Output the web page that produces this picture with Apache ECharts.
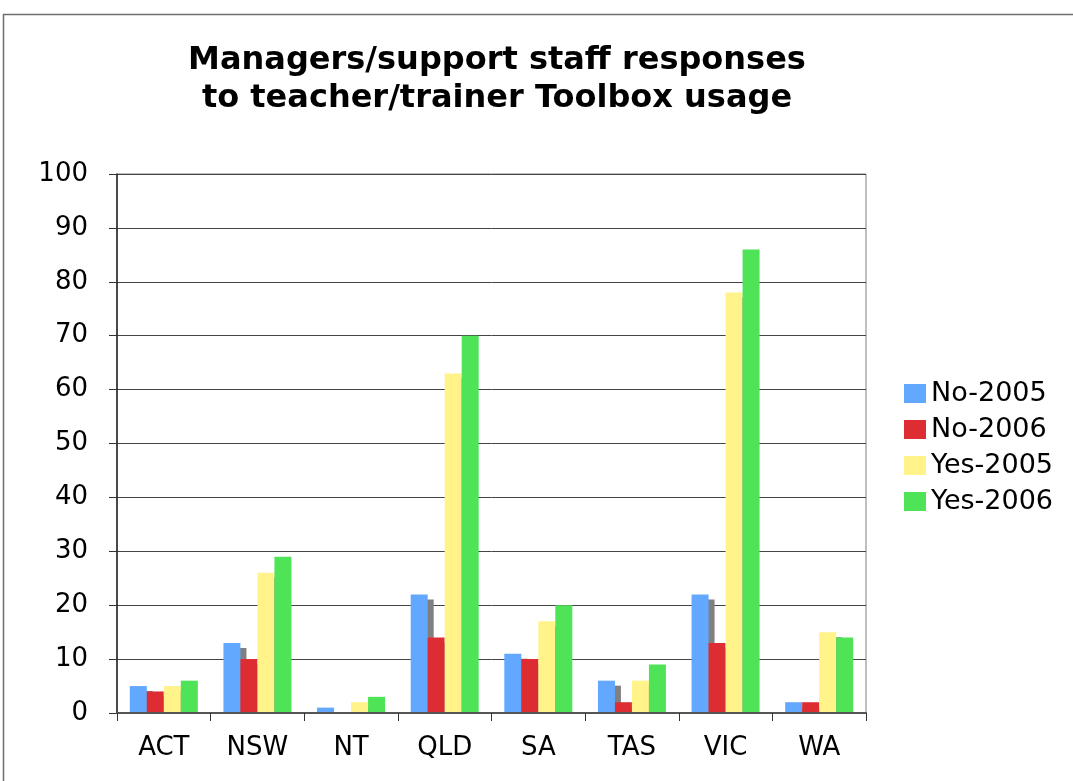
<!DOCTYPE html>
<html>
<head>
<meta charset="utf-8">
<script src="https://cdn.jsdelivr.net/npm/echarts@6/dist/echarts.min.js"></script>
<style>
    html, body { margin: 0; padding: 0; background: #fff; }
    #chart { width: 1073px; height: 781px; }
</style>
</head>
<body>
<div id="chart"></div>
<script>
// categories (states)
const states = ['ACT', 'NSW', 'NT', 'QLD', 'SA', 'TAS', 'VIC', 'WA'];
// series values
const no2005 = [5, 13, 1, 22, 11, 6, 22, 2];
const no2006 = [4, 10, 0, 14, 10, 2, 13, 2];
const yes2005 = [5, 26, 2, 63, 17, 6, 78, 15];
const yes2006 = [6, 29, 3, 70, 20, 9, 86, 14];
const seriesNames = ['No-2005', 'No-2006', 'Yes-2005', 'Yes-2006'];
const colors = ['#62a8ff', '#dd2c32', '#fff38a', '#4fe357'];

const chart = echarts.init(document.getElementById('chart'));

// bars cast a small grey drop shadow (only visible where the next bar is shorter)
function barSeries(name, data, idx, shadow) {
    const s = {
        name: name,
        type: 'bar',
        data: data,
        barWidth: 17,
        barGap: '0%',
        barCategoryGap: '27%',
        itemStyle: { color: colors[idx], borderRadius: 0 }
    };
    if (shadow) {
        s.itemStyle.shadowColor = '#808080';
        s.itemStyle.shadowOffsetX = 6;
        s.itemStyle.shadowOffsetY = 5;
        s.itemStyle.shadowBlur = 0;
    }
    return s;
}

const font = '"DejaVu Sans", Verdana, sans-serif';

const option = {
    animation: false,
    textStyle: { fontFamily: font },
    title: {
        text: 'Managers/support staff responses\nto teacher/trainer Toolbox usage',
        left: 492,
        textAlign: 'center',
        top: 37,
        textStyle: { fontSize: 32, fontWeight: 'bold', color: '#000', lineHeight: 38, fontFamily: font }
    },
    legend: {
        orient: 'vertical',
        left: 899,
        top: 375,
        icon: 'rect',
        itemWidth: 22,
        itemHeight: 19,
        itemGap: 9,
        textStyle: { fontSize: 27, color: '#000', fontFamily: font },
        data: seriesNames
    },
    graphic: [{
        type: 'rect',
        shape: { x: 3.5, y: 14.5, width: 1200, height: 900 },
        style: { fill: 'none', stroke: '#6e6e6e', lineWidth: 1.5 },
        silent: true
    }, {
        // hide the part of the shadows that falls below the x axis
        type: 'rect',
        z: 5,
        shape: { x: 118, y: 714, width: 748, height: 8 },
        style: { fill: '#fff' },
        silent: true
    }],
    grid: {
        left: 117,
        top: 174,
        right: 207,
        bottom: 68,
        show: true,
        borderColor: '#808080',
        borderWidth: 1
    },
    xAxis: {
        type: 'category',
        data: states,
        z: 10,
        axisLine: { lineStyle: { color: '#555', width: 2 } },
        axisTick: { show: true, length: 8, lineStyle: { color: '#333' } },
        axisLabel: { fontSize: 26, color: '#000', margin: 22, fontFamily: font }
    },
    yAxis: {
        type: 'value',
        min: 0,
        max: 100,
        interval: 10,
        axisLine: { show: true, lineStyle: { color: '#222', width: 1.5 } },
        axisTick: { show: true, length: 8, lineStyle: { color: '#333' } },
        axisLabel: { fontSize: 26, color: '#000', margin: 29, fontFamily: font },
        splitLine: { lineStyle: { color: '#444', width: 1 } }
    },
    series: [
        barSeries(seriesNames[0], no2005, 0, true),
        barSeries(seriesNames[1], no2006, 1, true),
        barSeries(seriesNames[2], yes2005, 2, true),
        barSeries(seriesNames[3], yes2006, 3, false)
    ]
};

chart.setOption(option);
</script>
</body>
</html>
